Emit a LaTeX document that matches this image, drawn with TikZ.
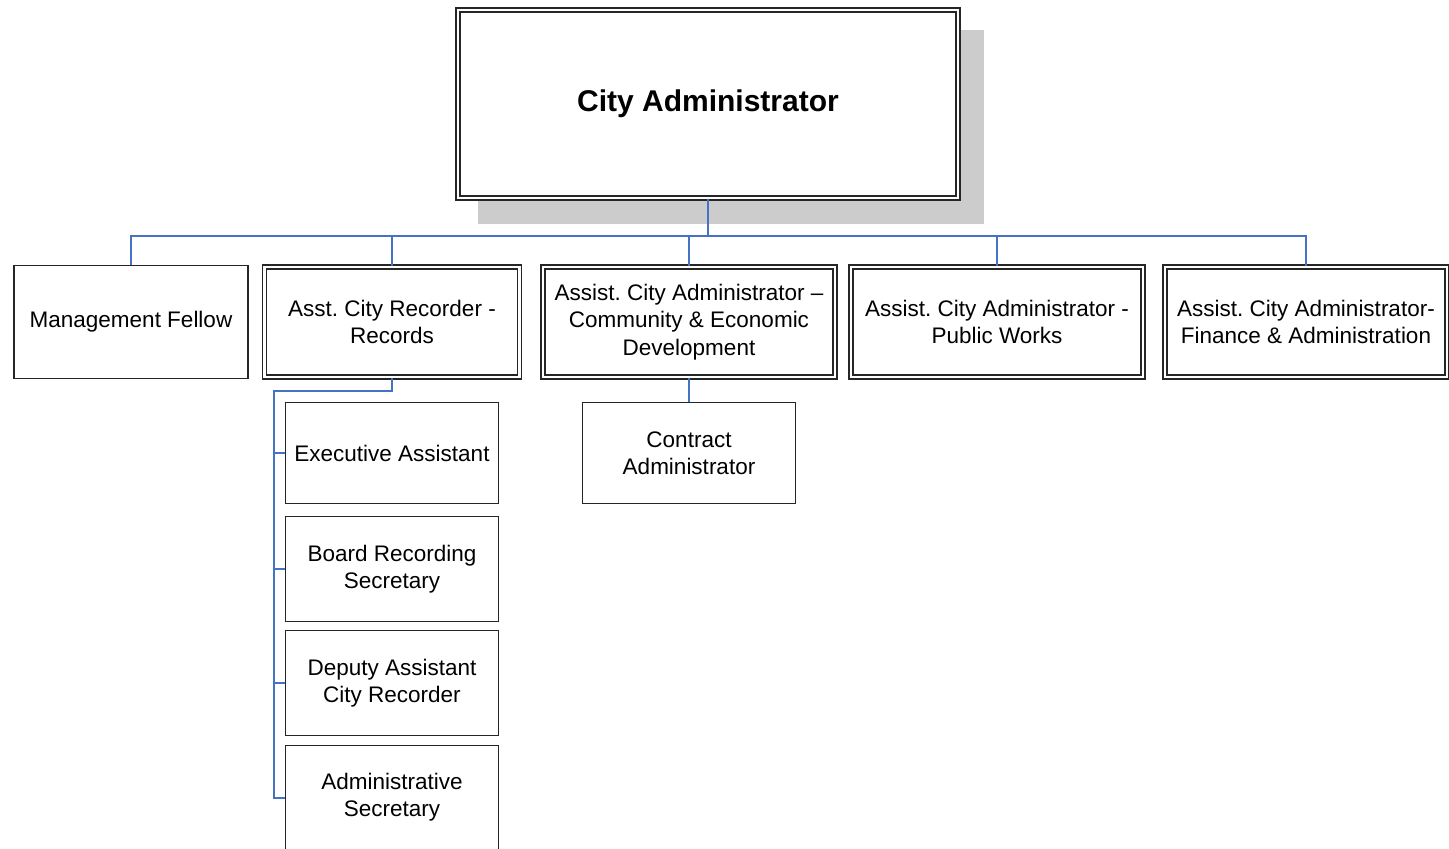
\documentclass[tikz,border=0pt]{standalone}
\usepackage{fontspec}
\setmainfont{Liberation Sans}
\usepackage{xcolor}
\frenchspacing
\definecolor{linkblue}{RGB}{70,114,196}
\tikzset{
  box/.style={draw=black!85, line width=1.8pt, fill=white, align=center,
    inner sep=2pt, font=\fontsize{22.5}{27.5}\selectfont},
  dbox/.style={box, double=white, double distance=2.6pt, line width=1.4pt},
  link/.style={draw=linkblue, line width=1.8pt}
}
\begin{document}
\begin{tikzpicture}[x=1pt,y=-1pt]
  \clip (0,0) rectangle (1449,849);
  \fill[white] (0,0) rectangle (1449,849);
  \fill[gray!40] (478,30) rectangle (984,224);
  \node[dbox, minimum width=500pt, minimum height=188pt,
        font=\bfseries\fontsize{30}{35}\selectfont] (ca) at (708,104) {City Administrator};
  \node[box, minimum width=234pt, minimum height=113pt] (mf) at (131,322) {Management Fellow};
  \node[dbox, minimum width=255pt, minimum height=110pt] (rec) at (392,322) {Asst. City Recorder -\\Records};
  \node[dbox, minimum width=292pt, minimum height=110pt] (ced) at (689,322) {Assist. City Administrator --\\Community \& Economic\\Development};
  \node[dbox, minimum width=292pt, minimum height=110pt] (pw) at (997,322) {Assist. City Administrator -\\Public Works};
  \node[dbox, minimum width=282pt, minimum height=110pt] (fin) at (1306,322) {Assist. City Administrator-\\Finance \& Administration};
  \node[box, minimum width=213pt, minimum height=101pt] (exa) at (392,453) {Executive Assistant};
  \node[box, minimum width=213pt, minimum height=105pt] (brs) at (392,569) {Board Recording\\Secretary};
  \node[box, minimum width=213pt, minimum height=105pt] (dac) at (392,683) {Deputy Assistant\\City Recorder};
  \node[box, minimum width=213pt, minimum height=105pt, text depth=50pt] (ads) at (392,798) {};
  \node[font=\fontsize{22.5}{27.5}\selectfont, align=center] (adst) at (392,797) {Administrative\\Secretary};
  \node[box, minimum width=213pt, minimum height=101pt] (con) at (689,453) {Contract\\Administrator};
  \coordinate (bus) at (0,236);
  \coordinate (spine) at (274,391);
  \foreach \n in {mf,rec,ced,pw,fin}
    \draw[link] (ca.south) -- (ca.south |- bus) -| (\n.north);
  \draw[link] (rec.south) -- (rec.south |- spine) -- (spine) |- (ads.west);
  \foreach \n in {exa,brs,dac}
    \draw[link] (spine |- \n.west) -- (\n.west);
  \draw[link] (ced.south) -- (con.north);
\end{tikzpicture}
\end{document}
